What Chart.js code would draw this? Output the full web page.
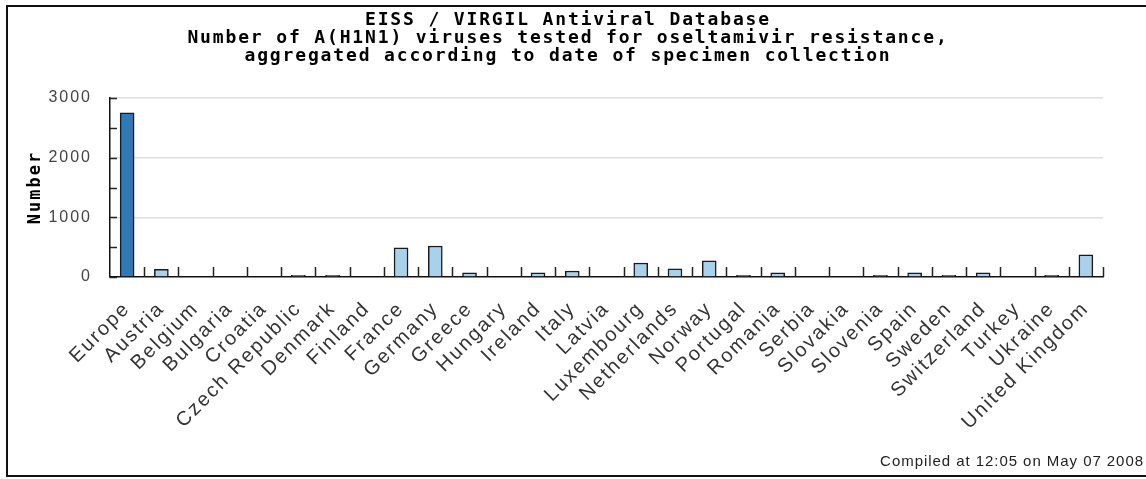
<!DOCTYPE html>
<html>
<head>
<meta charset="utf-8">
<script src="https://cdn.jsdelivr.net/npm/chart.js@4.4.1/dist/chart.umd.min.js"></script>
<style>
    html, body { margin: 0; padding: 0; background: #fff; overflow: hidden; }
    #wrap { position: relative; width: 1146px; height: 479px; }
    #frame {
        position: absolute; left: 6px; top: 5px; width: 1150px; height: 472px;
        border: 2px solid #111; box-sizing: border-box; pointer-events: none;
    }
    #title {
        position: absolute; left: 0; top: 10px; width: 1136px; text-align: center;
        font: bold 18px "DejaVu Sans Mono", monospace; line-height: 18px;
        letter-spacing: 1.85px; color: #000;
    }
    #compiled {
        position: absolute; right: 2px; top: 452px;
        font: 15px "Liberation Sans", Arial, sans-serif; letter-spacing: 0.95px; color: #222;
    }
</style>
</head>
<body>
<div id="wrap">
    <canvas id="virusChart" width="1146" height="479"></canvas>
    <div id="title">EISS / VIRGIL Antiviral Database<br>Number of A(H1N1) viruses tested for oseltamivir resistance,<br>aggregated according to date of specimen collection</div>
    <div id="compiled">Compiled at 12:05 on May 07 2008</div>
    <div id="frame"></div>
</div>
<script>
// values
const countries = ['Europe', 'Austria', 'Belgium', 'Bulgaria', 'Croatia', 'Czech Republic', 'Denmark',
    'Finland', 'France', 'Germany', 'Greece', 'Hungary', 'Ireland', 'Italy', 'Latvia', 'Luxembourg',
    'Netherlands', 'Norway', 'Portugal', 'Romania', 'Serbia', 'Slovakia', 'Slovenia', 'Spain', 'Sweden',
    'Switzerland', 'Turkey', 'Ukraine', 'United Kingdom'];
const tested = [2750, 130, 0, 0, 0, 30, 30, 0, 490, 520, 70, 0, 70, 100, 0, 235, 135, 270, 30, 70,
    0, 0, 30, 70, 30, 70, 0, 30, 370];
const yTicks = [0, 1000, 2000, 3000];

// the old renderer spaced its letters out a bit; do the same for axis text
const looseText = {
    id: 'looseText',
    beforeDraw(chart) { chart.ctx.letterSpacing = '2px'; },
    beforeDatasetsDraw(chart) { chart.ctx.letterSpacing = '0px'; }
};

// short tick marks drawn inside the plot, like the original
const innerTicks = {
    id: 'innerTicks',
    afterDatasetsDraw(chart) {
        const { ctx, chartArea, scales: { x, y } } = chart;
        ctx.save();
        ctx.strokeStyle = '#222';
        ctx.lineWidth = 1.5;
        ctx.beginPath();
        for (let i = 0; i < countries.length; i++) {
            const px = Math.round(x.getPixelForValue(i + 0.5)) + 0.5;
            ctx.moveTo(px, chartArea.bottom);
            ctx.lineTo(px, chartArea.bottom - 10);
        }
        y.ticks.forEach(t => {
            const py = Math.round(y.getPixelForValue(t.value)) + 0.5;
            ctx.moveTo(chartArea.left, py);
            ctx.lineTo(chartArea.left + 7, py);
        });
        ctx.stroke();
        ctx.restore();
    }
};

const ctx = document.getElementById('virusChart');
new Chart(ctx, {
    type: 'bar',
    data: {
        labels: countries,
        datasets: [{
            label: 'Number',
            data: tested,
            backgroundColor: countries.map(c => c === 'Europe' ? '#2f79b5' : '#a9d1ec'),
            borderColor: '#1a1a1a',
            borderWidth: 1.5,
            barThickness: 14
        }]
    },
    options: {
        responsive: false,
        animation: false,
        layout: { padding: { left: 0, top: 98, right: 43, bottom: 0 } },
        plugins: {
            legend: { display: false },
            tooltip: { enabled: false }
        },
        scales: {
            x: {
                grid: { display: false },
                border: { color: '#111', width: 1.5 },
                ticks: {
                    autoSkip: false,
                    maxRotation: 45,
                    minRotation: 45,
                    padding: 12,
                    color: '#333',
                    font: { family: 'Liberation Sans, Arial, sans-serif', size: 20 }
                },
                afterFit(scale) { scale.height = 202; }
            },
            y: {
                min: 0,
                max: 3000,
                grid: {
                    drawTicks: false,
                    lineWidth: 1.5,
                    color: c => (c.tick && c.tick.value > 0 && yTicks.includes(c.tick.value)) ? '#dedede' : 'rgba(0,0,0,0)'
                },
                border: { color: '#111', width: 1.5 },
                ticks: {
                    stepSize: 500,
                    padding: 18,
                    color: '#444',
                    font: { family: 'Liberation Sans, Arial, sans-serif', size: 16 },
                    callback: v => yTicks.includes(v) ? v : ''
                },
                title: {
                    display: true,
                    text: 'Number',
                    color: '#000',
                    padding: { top: 25, bottom: 0 },
                    font: { family: 'DejaVu Sans Mono, monospace', size: 17, weight: 'bold' }
                },
                afterFit(scale) { scale.width = 110; }
            }
        }
    },
    plugins: [looseText, innerTicks]
});
</script>
</body>
</html>
